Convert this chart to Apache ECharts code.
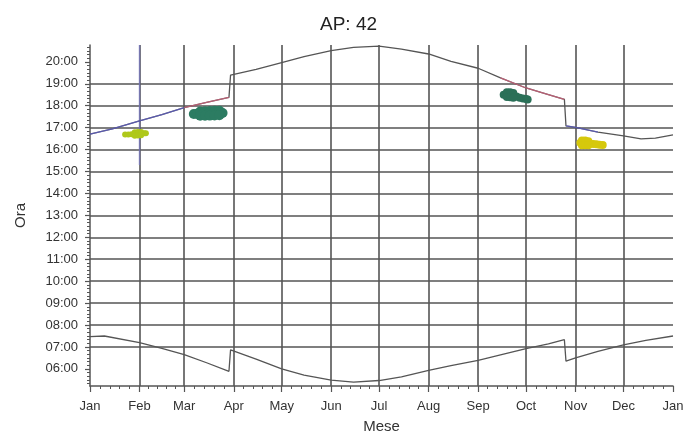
<!DOCTYPE html>
<html>
<head>
<meta charset="utf-8">
<script src="https://cdn.jsdelivr.net/npm/echarts@6/dist/echarts.min.js"></script>
<style>
html,body{margin:0;padding:0;background:#fff;}
#chart{width:700px;height:439px;}
</style>
</head>
<body>
<div id="chart"></div>
<script>
// ---- data ----
const title = 'AP: 42';
const monthNames = ['Jan','Feb','Mar','Apr','May','Jun','Jul','Aug','Sep','Oct','Nov','Dec'];
const monthTicks = ['2014-01-01','2014-02-01','2014-03-01','2014-04-01','2014-05-01','2014-06-01',
  '2014-07-01','2014-08-01','2014-09-01','2014-10-01','2014-11-01','2014-12-01','2015-01-01'];
const hourValues = [6,7,8,9,10,11,12,13,14,15,16,17,18,19,20];
const hourLabels = ['06:00','07:00','08:00','09:00','10:00','11:00','12:00','13:00','14:00',
  '15:00','16:00','17:00','18:00','19:00','20:00'];

const sunset = [
  ['2014-01-01',16.71],['2014-01-15',16.95],['2014-02-01',17.31],['2014-02-15',17.60],
  ['2014-03-01',17.91],['2014-03-15',18.15],['2014-03-29',18.38],['2014-03-30',19.40],
  ['2014-04-15',19.66],['2014-05-01',19.97],['2014-05-15',20.24],['2014-06-01',20.51],
  ['2014-06-15',20.66],['2014-07-01',20.72],['2014-07-15',20.58],['2014-08-01',20.36],
  ['2014-08-15',20.02],['2014-09-01',19.71],['2014-09-15',19.27],['2014-10-01',18.81],
  ['2014-10-15',18.51],['2014-10-25',18.29],['2014-10-26',17.08],['2014-11-01',17.01],
  ['2014-11-15',16.80],['2014-12-01',16.63],['2014-12-12',16.49],['2014-12-21',16.52],
  ['2015-01-01',16.67]
];
const sunrise = [
  ['2014-01-01',7.47],['2014-01-10',7.50],['2014-02-01',7.20],['2014-02-15',6.94],
  ['2014-03-01',6.65],['2014-03-15',6.28],['2014-03-29',5.89],['2014-03-30',6.87],
  ['2014-04-15',6.45],['2014-05-01',6.00],['2014-05-15',5.72],['2014-06-01',5.49],
  ['2014-06-15',5.40],['2014-07-01',5.47],['2014-07-15',5.64],['2014-08-01',5.93],
  ['2014-08-15',6.15],['2014-09-01',6.39],['2014-09-15',6.64],['2014-10-01',6.92],
  ['2014-10-15',7.14],['2014-10-25',7.33],['2014-10-26',6.35],['2014-11-01',6.50],
  ['2014-11-15',6.80],['2014-12-01',7.10],['2014-12-15',7.30],['2015-01-01',7.50]
];
// highlighted stretches of the sunset curve
const blueRanges = [['2014-01-01','2014-03-01'],['2014-10-26','2014-11-15']];
const redRanges = [['2014-03-01','2014-03-29'],['2014-09-15','2014-10-25']];
const febMark = [['2014-02-01',15.3],['2014-02-01',20.77]];

// observation clusters
const obsJanFeb = [
  ['2014-01-23',16.69],['2014-01-25',16.69],['2014-01-27',16.70],['2014-01-29',16.71],
  ['2014-01-31',16.72],['2014-02-02',16.73],['2014-02-04',16.74],['2014-02-05',16.74],
  ['2014-01-29',16.79],['2014-01-31',16.80],['2014-02-02',16.80],
  ['2014-01-29',16.63],['2014-01-31',16.64],['2014-02-02',16.65]
];
const obsMar = [
  ['2014-03-07',17.62],['2014-03-09',17.63],['2014-03-11',17.64],['2014-03-13',17.64],
  ['2014-03-15',17.65],['2014-03-17',17.65],['2014-03-19',17.66],['2014-03-21',17.66],
  ['2014-03-23',17.67],['2014-03-25',17.67],
  ['2014-03-11',17.74],['2014-03-14',17.75],['2014-03-17',17.76],['2014-03-20',17.77],['2014-03-23',17.77],
  ['2014-03-11',17.54],['2014-03-14',17.54],['2014-03-17',17.55],['2014-03-20',17.56],['2014-03-23',17.57]
];
const obsSepOct = [
  ['2014-09-17',18.50],['2014-09-19',18.51],['2014-09-21',18.50],['2014-09-23',18.47],
  ['2014-09-25',18.42],['2014-09-27',18.37],['2014-09-29',18.33],['2014-10-01',18.31],['2014-10-02',18.29],
  ['2014-09-19',18.62],['2014-09-21',18.62],['2014-09-23',18.58],
  ['2014-09-19',18.40],['2014-09-21',18.39],['2014-09-23',18.36]
];
const obsNov = [
  ['2014-11-04',16.31],['2014-11-06',16.31],['2014-11-08',16.30],['2014-11-10',16.28],
  ['2014-11-12',16.26],['2014-11-14',16.24],['2014-11-16',16.22],['2014-11-18',16.21],
  ['2014-11-05',16.42],['2014-11-07',16.41],['2014-11-09',16.38],
  ['2014-11-05',16.20],['2014-11-07',16.20],['2014-11-09',16.20]
];

const yMin = 5.22, yMax = 20.77;

// ---- build ----
const t = s => Date.parse(s);
const toXY = arr => arr.map(d => [t(d[0]), d[1]]);
const inRange = (arr, r) => arr.filter(d => t(d[0]) >= t(r[0]) && t(d[0]) <= t(r[1]));
const monthTs = monthTicks.map(t);
const minorX = [];
for (let i = 0; i < monthTs.length - 1; i++) {
  const a = monthTs[i], b = monthTs[i + 1];
  for (let k = 1; k < 5; k++) minorX.push(a + (b - a) * k / 5);
}
const minorY = [];
for (let v = 5 + 2 / 6; v < yMax; v += 1 / 6) {
  if (Math.abs(v - Math.round(v)) > 1e-6 && v > yMin) minorY.push(v);
}
const font = 'Liberation Sans, Arial, sans-serif';
const gridCol = '#555555';

const series = [
  {type:'line', data:toXY(sunset), symbol:'none', lineStyle:{color:'#555', width:1.3}, z:3},
  {type:'line', data:toXY(sunrise), symbol:'none', lineStyle:{color:'#555', width:1.3}, z:3},
  {type:'line', data:toXY(febMark), symbol:'none', lineStyle:{color:'#7878c8', width:1.5, opacity:0.7}, z:2}
];
blueRanges.forEach(r => series.push({type:'line', data:toXY(inRange(sunset, r)), symbol:'none',
  lineStyle:{color:'#5a5ad2', width:1.3, opacity:0.7}, z:4}));
redRanges.forEach(r => series.push({type:'line', data:toXY(inRange(sunset, r)), symbol:'none',
  lineStyle:{color:'#d0607a', width:1.3, opacity:0.8}, z:4}));
const blob = (data, color, size) => ({type:'scatter', data:toXY(data), symbol:'circle', symbolSize:size,
  itemStyle:{color:color, opacity:1, borderWidth:0}, z:5, silent:true});
series.push(blob(obsJanFeb, '#afc81a', 6));
series.push(blob(obsMar, '#2c7c62', 10));
series.push(blob(obsSepOct, '#2b7058', 8));
series.push(blob(obsNov, '#d6c80c', 8));

const chart = echarts.init(document.getElementById('chart'), null, {renderer:'canvas'});
chart.setOption({
  animation:false,
  backgroundColor:'#fff',
  title:{text:title, left:315, top:10, textStyle:{fontFamily:font, fontSize:19, fontWeight:'normal', color:'#222'}},
  grid:{left:90, right:27, top:45, bottom:49},
  xAxis:[
    {type:'value', min:monthTs[0], max:monthTs[monthTs.length-1],
     name:'Mese', nameLocation:'middle', nameGap:33,
     nameTextStyle:{fontFamily:font, fontSize:15, color:'#333'},
     axisLine:{show:true, lineStyle:{color:gridCol, width:1.5}},
     axisTick:{show:true, customValues:monthTs, length:6, lineStyle:{color:gridCol, width:1.2}},
     axisLabel:{customValues:monthTs, showMinLabel:true, showMaxLabel:true, margin:14,
       formatter:v => monthNames[new Date(v).getUTCMonth()],
       fontFamily:font, fontSize:13, color:'#333'},
     splitLine:{show:true, showMinLine:false, showMaxLine:false, lineStyle:{color:gridCol, width:1.6}}},
    {type:'value', min:monthTs[0], max:monthTs[monthTs.length-1], position:'bottom',
     axisLine:{show:false}, axisLabel:{show:false}, splitLine:{show:false},
     axisTick:{show:true, customValues:minorX, length:3, lineStyle:{color:gridCol, width:1}}}
  ],
  yAxis:[
    {type:'value', min:yMin, max:yMax,
     name:'Ora', nameLocation:'middle', nameGap:62, nameRotate:90,
     nameTextStyle:{fontFamily:font, fontSize:15, color:'#333'},
     axisLine:{show:true, lineStyle:{color:gridCol, width:1.5}},
     axisTick:{show:true, customValues:hourValues, length:5, lineStyle:{color:gridCol, width:1.2}},
     axisLabel:{customValues:hourValues, margin:12,
       formatter:v => hourLabels[hourValues.indexOf(Math.round(v))] || '',
       fontFamily:font, fontSize:13, color:'#333'},
     splitLine:{show:true, showMinLine:false, showMaxLine:false, lineStyle:{color:gridCol, width:1.6}}},
    {type:'value', min:yMin, max:yMax, position:'left',
     axisLine:{show:false}, axisLabel:{show:false}, splitLine:{show:false},
     axisTick:{show:true, customValues:minorY, length:3, lineStyle:{color:gridCol, width:1}}}
  ],
  series:series
});
</script>
</body>
</html>
